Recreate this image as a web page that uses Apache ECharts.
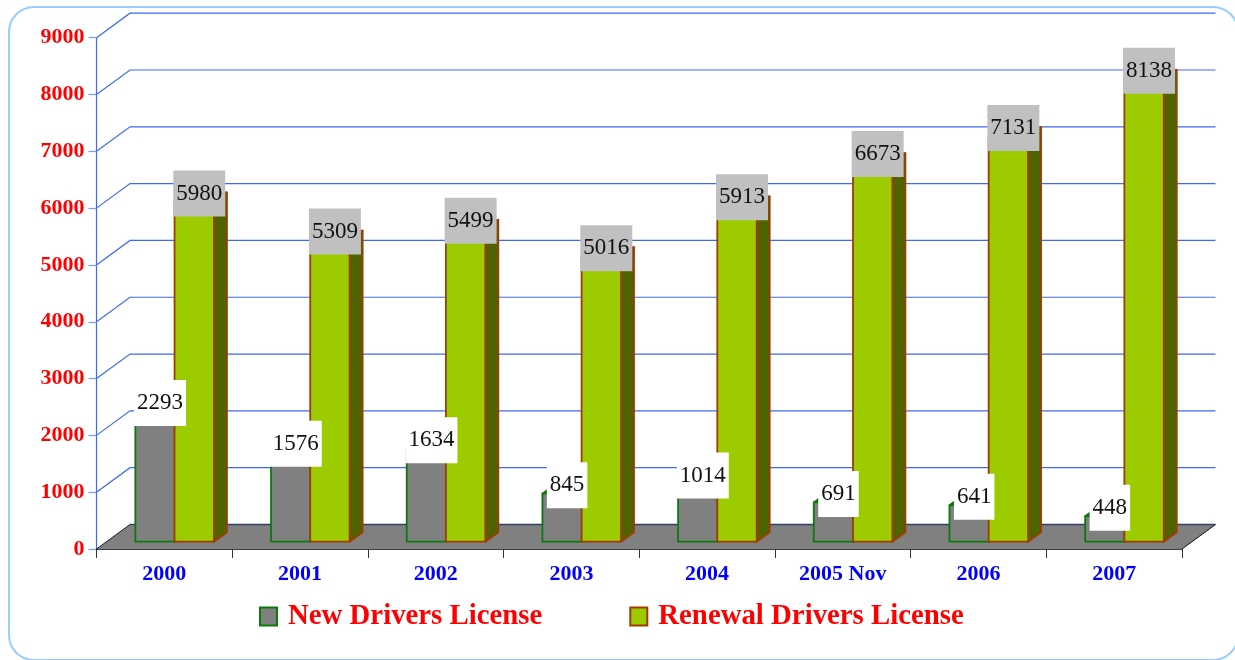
<!DOCTYPE html>
<html>
<head>
<meta charset="utf-8">
<style>
  html, body { margin: 0; padding: 0; background: #fff; }
  #chart { width: 1235px; height: 660px; }
</style>
<script src="https://cdn.jsdelivr.net/npm/echarts@6/dist/echarts.min.js"></script>
</head>
<body>
<div id="chart"></div>
<script>
const categories = ['2000', '2001', '2002', '2003', '2004', '2005 Nov', '2006', '2007'];
const newDrivers = [2293, 1576, 1634, 845, 1014, 691, 641, 448];
const renewalDrivers = [5980, 5309, 5499, 5016, 5913, 6673, 7131, 8138];
const yTicks = [1000, 2000, 3000, 4000, 5000, 6000, 7000, 8000, 9000];

const SERIF = '"Liberation Serif", "Times New Roman", serif';
// fake 3d: wall depth, and where the bar sits inside that depth
const WALL_DX = 33.5, WALL_DY = 24.5;
const FRONT_DY = 7.3, BAR_DX = 13, BAR_DY = 9.5;
const BAR_W = 39.4;

function wallLine(params, api) {
  const cs = params.coordSys;
  const p = api.coord([0, api.value(0)]);
  return {
    type: 'polyline',
    shape: { points: [[cs.x, p[1]], [cs.x + WALL_DX, p[1] - WALL_DY], [cs.x + cs.width + WALL_DX, p[1] - WALL_DY]] },
    style: { fill: null, stroke: '#3f68f4', lineWidth: 1.2 }
  };
}

function floor(params) {
  const cs = params.coordSys;
  const y = cs.y + cs.height;
  const l = cs.x, r = cs.x + cs.width;
  return {
    type: 'group',
    children: [
      { type: 'polygon', shape: { points: [[l, y], [l + WALL_DX, y - WALL_DY], [r + WALL_DX, y - WALL_DY], [r, y]] }, style: { fill: '#808080' } },
      { type: 'line', shape: { x1: l + WALL_DX, y1: y - WALL_DY, x2: r + WALL_DX, y2: y - WALL_DY }, style: { stroke: '#333f66', lineWidth: 1.5 } },
      { type: 'line', shape: { x1: l, y1: y, x2: l + WALL_DX, y2: y - WALL_DY }, style: { stroke: '#1a1a33', lineWidth: 1 } },
      { type: 'line', shape: { x1: r, y1: y, x2: r + WALL_DX, y2: y - WALL_DY }, style: { stroke: '#111', lineWidth: 1 } }
    ]
  };
}

function bar3d(offset, face, side, edge) {
  return function (params, api) {
    const base = api.coord([api.value(0), 0]);
    const top = api.coord([api.value(0), api.value(1)]);
    const x0 = base[0] + offset, x1 = x0 + BAR_W;
    const y0 = base[1] - FRONT_DY, y1 = top[1] - FRONT_DY;
    const s = { stroke: edge, lineWidth: 1.8, lineJoin: 'round' };
    return {
      type: 'group',
      children: [
        { type: 'polygon', shape: { points: [[x1, y0], [x1 + BAR_DX, y0 - BAR_DY], [x1 + BAR_DX, y1 - BAR_DY], [x1, y1]] }, style: Object.assign({ fill: side }, s) },
        { type: 'polygon', shape: { points: [[x0, y1], [x1, y1], [x1 + BAR_DX, y1 - BAR_DY], [x0 + BAR_DX, y1 - BAR_DY]] }, style: Object.assign({ fill: side }, s) },
        { type: 'rect', shape: { x: x0, y: y1, width: BAR_W, height: y0 - y1 }, style: Object.assign({ fill: face }, s) }
      ]
    };
  };
}

function valueLabel(offset, bg) {
  return function (params, api) {
    const v = api.value(1);
    const top = api.coord([api.value(0), v]);
    return {
      type: 'text',
      style: {
        text: String(v),
        x: top[0] + offset + BAR_W / 2 + 5,
        y: top[1] - FRONT_DY - BAR_DY + 1,
        align: 'center',
        verticalAlign: 'middle',
        fill: '#111',
        font: '23px ' + SERIF,
        backgroundColor: bg,
        padding: [10, 3, 13, 3]
      }
    };
  };
}

const chart = echarts.init(document.getElementById('chart'), null, { renderer: 'canvas' });
chart.setOption({
  animation: false,
  backgroundColor: '#fff',
  graphic: [{
    type: 'rect',
    silent: true,
    z: -10,
    shape: { x: 9, y: 7, width: 1229, height: 653, r: 25 },
    style: { fill: 'none', stroke: '#99ccff', lineWidth: 2 }
  }],
  grid: { left: 96.5, right: 53, top: 37.7, bottom: 111 },
  xAxis: {
    type: 'category',
    data: categories,
    axisLine: { lineStyle: { color: '#000', width: 1.5 } },
    axisTick: { show: true, alignWithLabel: false, length: 9, lineStyle: { color: '#333' } },
    axisLabel: { color: '#0000ff', fontFamily: SERIF, fontWeight: 'bold', fontSize: 22, margin: 14, interval: 0 }
  },
  yAxis: {
    type: 'value',
    min: 0,
    max: 9000,
    interval: 1000,
    splitLine: { show: false },
    axisLine: { show: true, lineStyle: { color: '#3d68f5', width: 1.2 } },
    axisTick: { show: true, length: 8, lineStyle: { color: '#7c9bff', width: 1.2 } },
    axisLabel: { color: '#ff0000', fontFamily: SERIF, fontWeight: 'bold', fontSize: 22, margin: 12, formatter: v => String(v) }
  },
  legend: {
    left: 259,
    top: 602,
    padding: 0,
    itemWidth: 17,
    itemHeight: 18,
    itemGap: 87,
    textStyle: { color: '#ff0000', fontFamily: SERIF, fontWeight: 'bold', fontSize: 28.8, padding: [0, 0, 0, 6] },
    data: [
      { name: 'New Drivers License', icon: 'rect', itemStyle: { color: '#808080', borderColor: '#0a7a0a', borderWidth: 2 } },
      { name: 'Renewal Drivers License', icon: 'rect', itemStyle: { color: '#9ccc00', borderColor: '#a03c00', borderWidth: 2 } }
    ]
  },
  series: [
    { type: 'custom', name: 'wall', z: 1, silent: true, data: yTicks, encode: { y: 0 }, renderItem: wallLine },
    { type: 'custom', name: 'floor', z: 2, silent: true, data: [0], encode: { y: 0 }, renderItem: floor },
    { type: 'custom', name: 'New Drivers License', z: 3, data: newDrivers.map((v, i) => [i, v]), encode: { x: 0, y: 1 }, renderItem: bar3d(-29, '#808080', '#4d4d4d', '#0a7a0a') },
    { type: 'custom', name: 'Renewal Drivers License', z: 4, data: renewalDrivers.map((v, i) => [i, v]), encode: { x: 0, y: 1 }, renderItem: bar3d(10.2, '#9ccc00', '#4f6300', '#a03c00') },
    { type: 'custom', name: 'newLabels', z: 5, data: newDrivers.map((v, i) => [i, v]), encode: { x: 0, y: 1 }, renderItem: valueLabel(-29, '#ffffff') },
    { type: 'custom', name: 'renewalLabels', z: 6, data: renewalDrivers.map((v, i) => [i, v]), encode: { x: 0, y: 1 }, renderItem: valueLabel(10.2, '#c0c0c0') }
  ]
});
</script>
</body>
</html>
